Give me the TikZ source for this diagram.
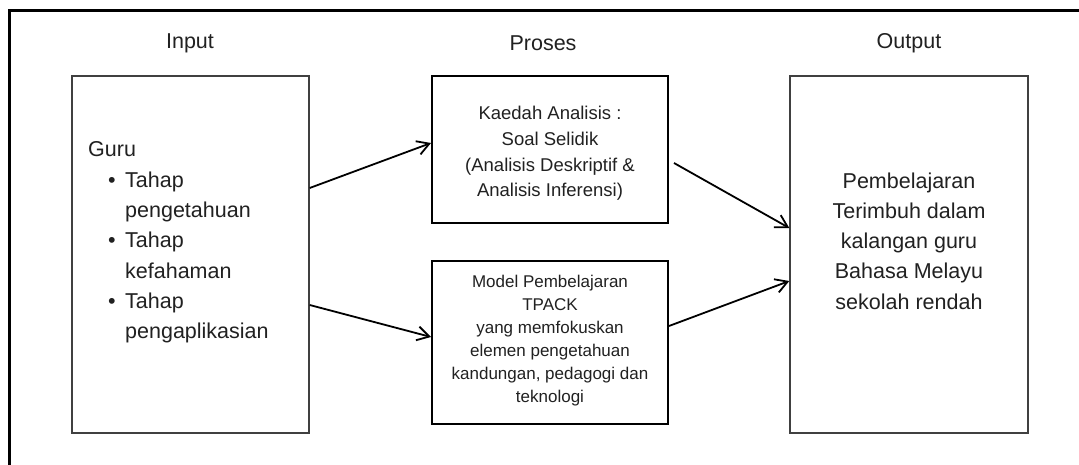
\documentclass[tikz,border=0pt]{standalone}
\usepackage{fontspec}
\setmainfont{Liberation Sans}
\usetikzlibrary{arrows.meta}

\begin{document}
\begin{tikzpicture}[x=1pt,y=-1pt]

\tikzstyle{outer} = [line width=3pt, draw=black]
\tikzstyle{box} = [rectangle, draw=black!75, line width=1.4pt, inner sep=0pt]
\tikzstyle{procbox} = [rectangle, draw=black, line width=2pt, inner sep=0pt, minimum width=236pt]
\tikzstyle{heading} = [font=\fontsize{21.5}{26}\selectfont, text=black!87]
\tikzstyle{bigtext} = [font=\fontsize{21.5}{30.3}\selectfont, text=black!87, inner sep=0pt]
\tikzstyle{midtext} = [font=\fontsize{18.5}{25.7}\selectfont, text=black!87, align=center, inner sep=0pt]
\tikzstyle{smalltext} = [font=\fontsize{17}{23}\selectfont, text=black!87, align=center, inner sep=0pt]
\tikzstyle{link} = [line width=1.8pt, -{Straight Barb[length=12pt,width=14pt]}]

\useasboundingbox (0,0) rectangle (1079,465);
\fill[white] (0,0) rectangle (1079,465);
\draw[outer] (9,465) -- (9,11) -- (1079,11);

\node[heading] (inlabel) at (190,43) {Input};
\node[heading] (proslabel) at (543,43) {Proses};
\node[heading] (outlabel) at (909,43) {Output};

\node[box, minimum width=237pt, minimum height=357pt] (inbox) at (190.5,254.5) {};
\node[procbox, minimum height=147pt] (kaedah) at (550,149.5) {};
\node[procbox, minimum height=163pt] (model) at (550,342.5) {};
\node[box, minimum width=238pt, minimum height=357pt] (outbox) at (909,254.5) {};

\node[bigtext, align=left, anchor=west] (intext) at (88,242.5) {Guru\\
  \hspace*{20pt}\makebox[17pt][l]{\textbullet}Tahap\\
  \hspace*{37pt}pengetahuan\\
  \hspace*{20pt}\makebox[17pt][l]{\textbullet}Tahap\\
  \hspace*{37pt}kefahaman\\
  \hspace*{20pt}\makebox[17pt][l]{\textbullet}Tahap\\
  \hspace*{37pt}pengaplikasian};

\node[midtext] (kaedahtext) at (550,153.5) {Kaedah Analisis :\\ Soal Selidik\\ (Analisis Deskriptif \&\\ Analisis Inferensi)};
\node[smalltext] (modeltext) at (550,340.5) {Model Pembelajaran\\ TPACK\\ yang memfokuskan\\ elemen pengetahuan\\ kandungan, pedagogi dan\\ teknologi};
\node[bigtext, align=center] (outtext) at (909,241) {Pembelajaran\\ Terimbuh dalam\\ kalangan guru\\ Bahasa Melayu\\ sekolah rendah};

\draw[link] ([yshift=66.5pt]inbox.east) -- ([yshift=6.5pt]kaedah.west);
\draw[link] ([yshift=-50.5pt]inbox.east) -- ([yshift=5.5pt]model.west);
\draw[link] ([xshift=5pt,yshift=-13.5pt]kaedah.east) -- ([yshift=26.5pt]outbox.west);
\draw[link] ([yshift=16.5pt]model.east) -- ([yshift=-26.5pt]outbox.west);

\end{tikzpicture}
\end{document}
